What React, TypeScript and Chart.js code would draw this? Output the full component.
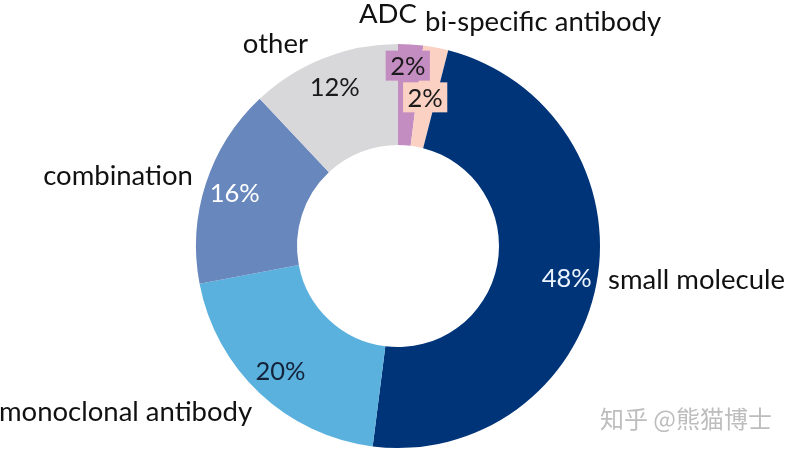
import React, { useEffect, useRef } from "react";
import { Chart, registerables } from "chart.js";

Chart.register(...registerables);

const categories = ["ADC", "bi-specific antibody", "small molecule", "monoclonal antibody", "combination", "other"];
const shares = [2, 2, 48, 20, 16, 12];
const percentLabels = ["2%", "2%", "48%", "20%", "16%", "12%"];
const sliceColors = ["#C48DC1", "#FAD1C2", "#003479", "#5AB1DE", "#6787BD", "#D8D8DA"];
const percentColors = ["#1a1a1a", "#1a1a1a", "#EAF4FF", "#14233a", "#FFFFFF", "#1a1a1a"];
const watermark = "知乎 @熊猫博士";

// layout of category labels: offsets from centre in units of the outer radius, and alignment
const nameLayout: { dx: number; dy: number; align: CanvasTextAlign }[] = [
  { dx: -0.05, dy: -1.15, align: "center" },
  { dx: 0.134, dy: -1.11, align: "left" },
  { dx: 1.04, dy: 0.17, align: "left" },
  { dx: -0.722, dy: 0.822, align: "right" },
  { dx: -1.015, dy: -0.347, align: "right" },
  { dx: -0.446, dy: -1.0, align: "right" },
];
// extra pixel shifts for percentage labels, and whether they get a box
const pctShift: { dx: number; dy: number; box: boolean }[] = [
  { dx: -1, dy: -9, box: true },
  { dx: -5, dy: 20, box: true },
  { dx: 0, dy: 0, box: false },
  { dx: 0, dy: 0, box: false },
  { dx: 0, dy: 0, box: false },
  { dx: 0, dy: 0, box: false },
];

const FONT = "Lato, 'Noto Sans', sans-serif";

const labelPlugin = {
  id: "sliceLabels",
  afterDatasetsDraw(chart: any) {
    const ctx: CanvasRenderingContext2D = chart.ctx;
    const meta = chart.getDatasetMeta(0);
    ctx.save();
    meta.data.forEach((arc: any, i: number) => {
      const { x, y, startAngle, endAngle, outerRadius } = arc.getProps(
        ["x", "y", "startAngle", "endAngle", "outerRadius"],
        true
      );
      const mid = (startAngle + endAngle) / 2;
      const r = outerRadius * 0.85;
      const px = x + Math.cos(mid) * r + pctShift[i].dx;
      const py = y + Math.sin(mid) * r + pctShift[i].dy;
      ctx.font = `25.5px ${FONT}`;
      ctx.textAlign = "center";
      ctx.textBaseline = "middle";
      if (pctShift[i].box) {
        const w = ctx.measureText(percentLabels[i]).width + 9;
        ctx.fillStyle = sliceColors[i];
        ctx.fillRect(px - w / 2, py - 15, w, 30);
      }
      ctx.fillStyle = percentColors[i];
      ctx.fillText(percentLabels[i], px, py + 1);

      const L = nameLayout[i];
      ctx.font = `27.5px ${FONT}`;
      ctx.textAlign = L.align;
      ctx.fillStyle = "#111111";
      ctx.fillText(categories[i], x + L.dx * outerRadius, y + L.dy * outerRadius);
    });
    ctx.font = `24px 'Noto Sans CJK SC', sans-serif`;
    ctx.textAlign = "center";
    ctx.textBaseline = "middle";
    ctx.fillStyle = "#BDBDBD";
    ctx.fillText(watermark, chart.width - 105, chart.height - 34);
    ctx.restore();
  },
};

export default function App() {
  const ref = useRef<HTMLCanvasElement>(null);
  useEffect(() => {
    document.body.style.margin = "0";
    const chart = new Chart(ref.current!, {
      type: "doughnut",
      data: {
        labels: categories,
        datasets: [
          {
            data: shares,
            backgroundColor: sliceColors,
            borderWidth: 0,
          },
        ],
      },
      options: {
        animation: false,
        responsive: false,
        cutout: "50%",
        layout: { padding: { left: 196, right: 191, top: 44, bottom: 5 } },
        plugins: { legend: { display: false }, tooltip: { enabled: false } },
      },
      plugins: [labelPlugin],
    });
    return () => chart.destroy();
  }, []);
  return (
    <div style={{ width: 791, height: 453, background: "#fff" }}>
      <canvas ref={ref} width={791} height={453} />
    </div>
  );
}
